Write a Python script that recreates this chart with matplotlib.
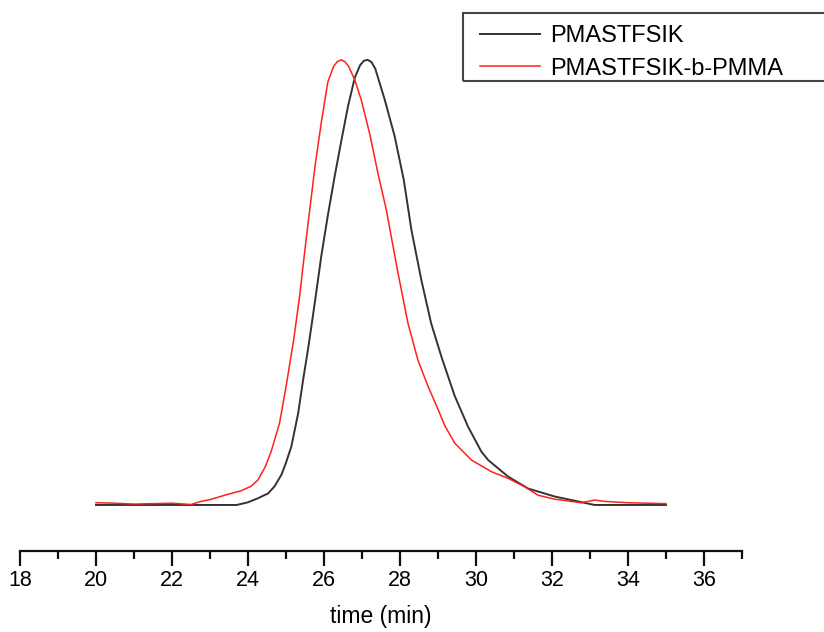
import matplotlib
matplotlib.use("Agg")
import matplotlib.pyplot as plt
from matplotlib.patches import Rectangle
from matplotlib.ticker import MultipleLocator

plt.rcParams['font.family'] = ['Liberation Sans', 'DejaVu Sans']

# GPC elution traces (normalised detector response vs. elution time)
time_homo = [20.0, 21.0, 22.0, 23.0, 23.7, 24.0, 24.26, 24.53, 24.7, 24.88,
             25.0, 25.14, 25.32, 25.45, 25.58, 25.7, 25.8, 25.93, 26.1, 26.28,
             26.46, 26.63, 26.81, 26.95, 27.05, 27.15, 27.25, 27.35, 27.6, 27.86,
             28.1, 28.3, 28.56, 28.82, 29.09, 29.44, 29.79, 30.14, 30.32, 30.84,
             31.37, 32.07, 32.68, 33.12, 34.0, 35.0]
signal_homo = [0.0, 0.0, 0.0, 0.0, 0.0, 0.006, 0.015, 0.026, 0.042, 0.068,
               0.095, 0.131, 0.206, 0.281, 0.35, 0.42, 0.48, 0.56, 0.65, 0.738,
               0.82, 0.895, 0.96, 0.988, 0.998, 1.0, 0.995, 0.98, 0.91, 0.828,
               0.73, 0.618, 0.506, 0.408, 0.333, 0.245, 0.176, 0.12, 0.101, 0.064,
               0.037, 0.019, 0.008, 0.0, 0.0, 0.0]

time_block = [20.0, 20.5, 21.0, 21.5, 22.0, 22.5, 22.76, 23.0, 23.39, 23.82,
              24.08, 24.26, 24.45, 24.61, 24.83, 25.01, 25.2, 25.36, 25.5, 25.62,
              25.77, 25.93, 26.1, 26.25, 26.35, 26.45, 26.55, 26.65, 26.81, 26.98,
              27.2, 27.42, 27.64, 27.95, 28.21, 28.47, 28.74, 29.0, 29.18, 29.44,
              29.88, 30.4, 30.84, 31.28, 31.63, 32.07, 32.77, 33.12, 33.39, 34.0,
              35.0]
signal_block = [0.005, 0.004, 0.002, 0.003, 0.004, 0.001, 0.008, 0.012, 0.022, 0.032,
                0.042, 0.056, 0.085, 0.12, 0.184, 0.27, 0.37, 0.47, 0.575, 0.66,
                0.765, 0.86, 0.95, 0.985, 0.996, 1.0, 0.996, 0.985, 0.955, 0.91,
                0.835, 0.745, 0.663, 0.52, 0.408, 0.326, 0.266, 0.215, 0.178, 0.139,
                0.101, 0.075, 0.060, 0.041, 0.022, 0.013, 0.005, 0.011, 0.008, 0.005,
                0.003]

labels = ["PMASTFSIK", "PMASTFSIK-b-PMMA"]
x_ticks = [18, 20, 22, 24, 26, 28, 30, 32, 34, 36]

W, H = 824, 632
fig = plt.figure(figsize=(W / 100, H / 100), dpi=100)
ax = fig.add_axes([20 / W, 1 - 551 / H, 722 / W, 541 / H])

ax.plot(time_homo, signal_homo, color="#333333", lw=1.4, label=labels[0])
ax.plot(time_block, signal_block, color="#ff2020", lw=1.1, label=labels[1])

ax.set_xlim(18, 37)
ax.set_ylim(-0.1034, 1.112)

for side in ("top", "right", "left"):
    ax.spines[side].set_visible(False)
ax.spines["bottom"].set_linewidth(1.6)
ax.spines["bottom"].set_color("#111111")
ax.set_yticks([])

ax.set_xticks(x_ticks)
ax.set_xticklabels([str(t) for t in x_ticks])
ax.xaxis.set_minor_locator(MultipleLocator(1))
ax.tick_params(axis="x", which="major", direction="out", length=11, width=1.6,
               labelsize=15.5, pad=3, color="#111111")
ax.tick_params(axis="x", which="minor", direction="out", length=6, width=1.6,
               color="#111111")
ax.set_xlabel("time (min)", fontsize=16.5, labelpad=10)

# legend entries without their own frame; the box is drawn separately
leg = ax.legend(loc="upper left", bbox_to_anchor=(480 / W, 1 - 25 / H),
                bbox_transform=fig.transFigure, fontsize=17, frameon=False,
                handlelength=2.55, handletextpad=0.42,
                borderpad=0.0, labelspacing=0.45, borderaxespad=0)
fig.patches.append(Rectangle((463 / W, 1 - 81 / H), 380 / W, 68 / H,
                             transform=fig.transFigure, fill=False,
                             edgecolor="#444444", linewidth=1.5, zorder=5))

fig.savefig("out.png", dpi=100)
